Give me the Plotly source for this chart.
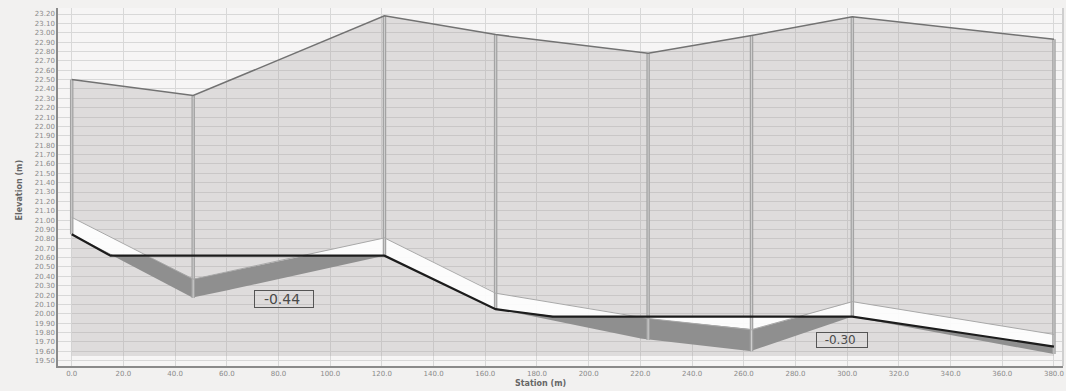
import numpy as np
import plotly.graph_objects as go

# ---- data ----
stations = [0, 47, 121, 164, 223, 263, 302, 380]
ground = [22.50, 22.33, 23.18, 22.98, 22.78, 22.97, 23.17, 22.93]
crown = [21.03, 20.37, 20.81, 20.22, 19.95, 19.83, 20.13, 19.78]
invert = [20.85, 20.17, 20.62, 20.05, 19.72, 19.60, 19.97, 19.57]
hgl_stations = [0, 15, 121, 164, 186, 302, 380]
hgl = [20.85, 20.62, 20.62, 20.05, 19.97, 19.97, 19.65]
fill_base = 19.55

x_ticks = [i * 20 for i in range(20)]
x_tick_text = [f"{v:.1f}" for v in x_ticks]
y_ticks = [round(19.5 + 0.1 * i, 2) for i in range(38)]
y_tick_text = [f"{v:.2f}" for v in y_ticks]

notes = [("-0.44", 82, 20.16, 14), ("-0.30", 298, 19.72, 12)]

# ---- derived bands ----
xs = np.linspace(stations[0], stations[-1], 1521)
cr = np.interp(xs, stations, crown)
inv = np.interp(xs, stations, invert)
hg = np.interp(xs, hgl_stations, hgl)


def band(xv, top, bot):
    return np.concatenate([xv, xv[::-1]]), np.concatenate([top, bot[::-1]])


fig = go.Figure()

# ground fill
gx = list(stations) + [stations[-1], stations[0]]
gy = list(ground) + [fill_base, fill_base]
fig.add_trace(go.Scatter(x=gx, y=gy, fill="toself", mode="lines",
                         line=dict(width=0), fillcolor="rgba(160,155,155,0.28)",
                         hoverinfo="skip", showlegend=False))

split = stations[2]
mA = xs <= split
mB = xs >= split
# white band (empty pipe)
bx, by = band(xs[mA], cr[mA], np.clip(hg[mA], inv[mA], cr[mA]))
fig.add_trace(go.Scatter(x=bx, y=by, fill="toself", mode="lines", line=dict(width=0),
                         fillcolor="rgba(255,255,255,0.9)", hoverinfo="skip", showlegend=False))
bx, by = band(xs[mB], np.maximum(cr[mB], hg[mB]), np.minimum(cr[mB], hg[mB]))
fig.add_trace(go.Scatter(x=bx, y=by, fill="toself", mode="lines", line=dict(width=0),
                         fillcolor="rgba(255,255,255,0.9)", hoverinfo="skip", showlegend=False))
# dark band
dtop = np.maximum(inv, np.minimum(cr, hg))
bx, by = band(xs, dtop, inv)
fig.add_trace(go.Scatter(x=bx, y=by, fill="toself", mode="lines", line=dict(width=0),
                         fillcolor="#8f8f8f", hoverinfo="skip", showlegend=False))

# node vertical lines
vx, vy = [], []
for s, g, iv in zip(stations, ground, invert):
    vx += [s, s, None]
    vy += [g, iv, None]
fig.add_trace(go.Scatter(x=vx, y=vy, mode="lines", line=dict(color="#a3a3a3", width=3.5),
                         hoverinfo="skip", showlegend=False))
fig.add_trace(go.Scatter(x=vx, y=vy, mode="lines", line=dict(color="#cfcfcf", width=1),
                         hoverinfo="skip", showlegend=False))

# crown line
fig.add_trace(go.Scatter(x=stations, y=crown, mode="lines", line=dict(color="#a8a8a8", width=1),
                         hoverinfo="skip", showlegend=False))
# ground line
fig.add_trace(go.Scatter(x=stations, y=ground, mode="lines", line=dict(color="#727272", width=1.5),
                         hoverinfo="skip", showlegend=False))
# HGL
fig.add_trace(go.Scatter(x=hgl_stations, y=hgl, mode="lines", line=dict(color="#1c1c1c", width=2.2),
                         hoverinfo="skip", showlegend=False))

for txt, sx, sy, fs in notes:
    fig.add_annotation(x=sx, y=sy, text="&nbsp;&nbsp;" + txt + "&nbsp;&nbsp;&nbsp;",
                       showarrow=False,
                       font=dict(family="DejaVu Sans", size=fs, color="#4a4a4a"),
                       bordercolor="#555555", borderwidth=1, borderpad=0,
                       bgcolor="rgba(0,0,0,0)")

fig.add_annotation(x=0.48, y=-0.05, xref="paper", yref="paper", text="<b>Station (m)</b>",
                   xanchor="center", yanchor="middle",
                   showarrow=False, font=dict(family="DejaVu Sans", size=8, color="#666666"))
fig.add_annotation(x=-0.038, y=0.49, xref="paper", yref="paper", text="<b>Elevation (m)</b>",
                   xanchor="center", yanchor="middle",
                   textangle=-90, showarrow=False,
                   font=dict(family="DejaVu Sans", size=8, color="#666666"))

fig.add_shape(type="line", xref="paper", yref="paper", x0=1, x1=1, y0=0, y1=1,
              line=dict(color="#cfcfcf", width=2))

fig.update_xaxes(range=[-5.3, 383.5], tickvals=x_ticks, ticktext=x_tick_text,
                 showgrid=True, gridcolor="#d8d8d8", gridwidth=1, zeroline=False,
                 showline=True, linecolor="#8a8a8a", linewidth=1.5,
                 tickfont=dict(family="DejaVu Sans", size=7, color="#8a8a8a"), ticks="")
fig.update_yaxes(range=[19.443, 23.264], tickvals=y_ticks, ticktext=y_tick_text,
                 showgrid=True, gridcolor="#d8d8d8", gridwidth=1, zeroline=False,
                 showline=True, linecolor="#8a8a8a", linewidth=1.5,
                 tickfont=dict(family="DejaVu Sans", size=7, color="#8a8a8a"), ticks="")

fig.update_layout(width=1066, height=391, margin=dict(l=58, r=3, t=8, b=25),
                  paper_bgcolor="#f2f1f0", plot_bgcolor="#f6f5f5", showlegend=False)

fig.write_html("out.html")
